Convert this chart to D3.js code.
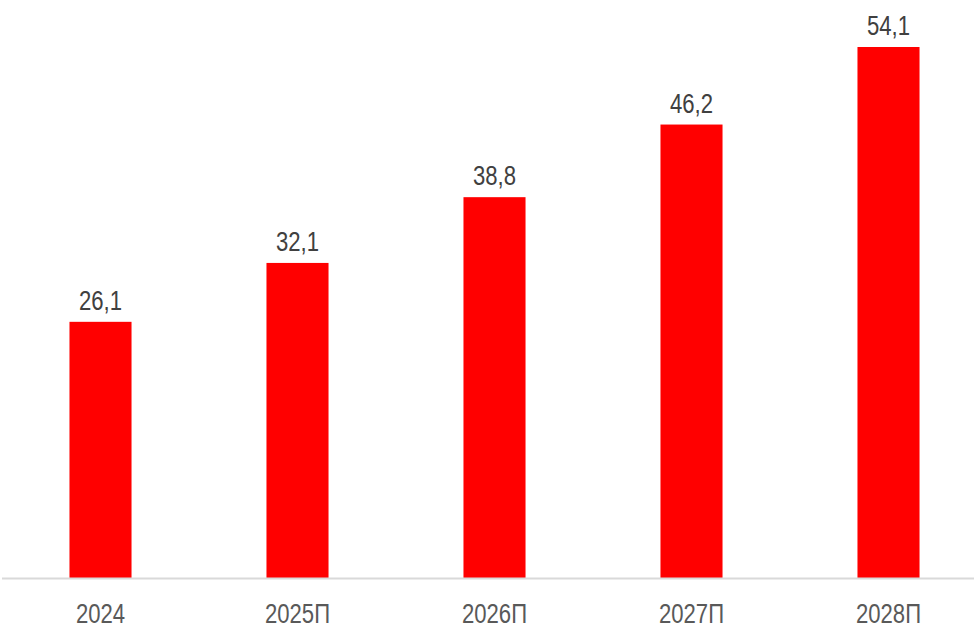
<!DOCTYPE html>
<html>
<head>
<meta charset="utf-8">
<script src="https://cdn.jsdelivr.net/npm/d3@7"></script>
<style>
  body { margin: 0; background: #fff; }
  text { font-family: "Liberation Sans", Arial, sans-serif; }
</style>
</head>
<body>
<script>
const width = 974;
const height = 637;

const years = ['2024', '2025П', '2026П', '2027П', '2028П'];
const values = [26.1, 32.1, 38.8, 46.2, 54.1];

const baseline = 578;
const narrow = 0.82; // Arial Narrow look-alike

const xScale = d3.scaleBand()
  .domain(years)
  .range([2, 987])
  .paddingInner(0.685)
  .paddingOuter(0.3425);

const yScale = d3.scaleLinear()
  .domain([0, 54.1])
  .range([baseline, 47]);

const fmt = v => d3.format('.1f')(v).replace('.', ',');

const svg = d3.select('body').append('svg')
  .attr('width', width)
  .attr('height', height);

svg.selectAll('rect.bar')
  .data(values)
  .join('rect')
  .attr('class', 'bar')
  .attr('x', (d, i) => xScale(years[i]))
  .attr('y', d => yScale(d))
  .attr('width', xScale.bandwidth())
  .attr('height', d => baseline - yScale(d))
  .attr('fill', '#ff0000');

// baseline + category labels
const xAxis = d3.axisBottom(xScale).tickSize(0).tickPadding(0);
const gx = svg.append('g')
  .attr('transform', `translate(0, ${baseline})`)
  .call(xAxis);
gx.select('.domain')
  .attr('d', `M2,0.5H974`)
  .attr('stroke', '#d9d9d9')
  .attr('stroke-width', 2);
gx.selectAll('.tick text')
  .attr('y', 0)
  .attr('dy', null)
  .attr('transform', `translate(0, 45) scale(${narrow}, 1)`)
  .attr('fill', '#595959')
  .style('font-size', '27px')
  .style('font-family', '"Liberation Sans", Arial, sans-serif');

// value labels
svg.selectAll('text.val')
  .data(values)
  .join('text')
  .attr('class', 'val')
  .attr('transform', (d, i) =>
    `translate(${xScale(years[i]) + xScale.bandwidth() / 2}, ${yScale(d) - 12}) scale(${narrow}, 1)`)
  .attr('text-anchor', 'middle')
  .attr('fill', '#404040')
  .style('font-size', '27px')
  .text(fmt);
</script>
</body>
</html>
